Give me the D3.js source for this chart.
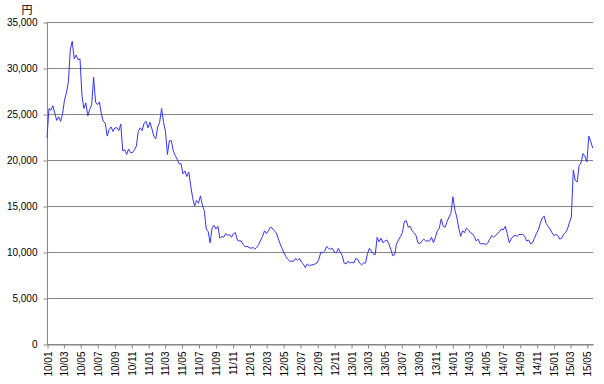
<!DOCTYPE html>
<html>
<head>
<meta charset="utf-8">
<script src="https://cdn.jsdelivr.net/npm/d3@7"></script>
<style>
  body { margin: 0; background: #fff; }
  #graph { width: 604px; height: 384px; }
  .line { fill: none; stroke: #3333ff; stroke-width: 1; }
  text { font-family: "Liberation Sans", Arial, sans-serif; font-size: 10px; fill: #000; }
</style>
</head>
<body>
<div id="graph"></div>
<script>
// weekly closes (Friday), one list per year
var price2010 = [22400, 25600, 25400, 25900, 25100, 24300, 24700, 24200, 25000, 26500,
  27300, 28500, 32000, 32900, 31000, 31400, 30900, 31000, 27000, 25600,
  26200, 24800, 25500, 26000, 29000, 26300, 26000, 26300, 25000, 24200,
  24000, 22600, 23300, 23600, 23100, 23500, 23500, 23200, 23900, 21000,
  21100, 20600, 21200, 20800, 20800, 21100, 21500, 23100, 23500, 23200,
  24000, 24200, 23500];
var price2011 = [24100, 23400, 22600, 22300, 23600, 24100, 25600, 24100, 23100, 20600,
  22100, 22100, 21000, 20500, 20100, 19600, 19600, 18500, 18800, 18200,
  18700, 17200, 15900, 15000, 15600, 15300, 16100, 15100, 14500, 12500,
  12200, 11000, 12600, 12900, 12500, 12800, 11500, 11700, 11600, 12000,
  11800, 11900, 11600, 12000, 12100, 11300, 11200, 11200, 10800, 10600,
  10600, 10500];
var price2012 = [10400, 10500, 10300, 10500, 10800, 11300, 11700, 12300, 12000, 12300,
  12700, 12600, 12300, 12100, 11500, 10900, 10400, 9900, 9500, 9200,
  9000, 9000, 9000, 9300, 9100, 9300, 8900, 8700, 8300, 8700,
  8500, 8600, 8600, 8700, 8800, 9200, 10000, 9900, 10100, 10600,
  10400, 10300, 10400, 10000, 9900, 10400, 10000, 9600, 8800, 8700,
  9000, 8800];
var price2013 = [8900, 8800, 9300, 9200, 8800, 8600, 8800, 8800, 9800, 10400,
  10100, 9800, 9700, 11600, 11100, 11500, 11000, 11200, 11300, 10900,
  10300, 9600, 9700, 10900, 11300, 11700, 12100, 13300, 13400, 12700,
  12800, 12300, 12100, 11800, 11000, 10900, 11200, 11400, 11200, 11200,
  11200, 11600, 11000, 11600, 12300, 12600, 13600, 12800, 12700, 13300,
  13800, 14200];
var price2014 = [16000, 14600, 13800, 12600, 11700, 12300, 12100, 12600, 12400, 12100,
  12000, 11700, 11200, 11400, 10900, 10900, 10900, 10800, 11000, 11400,
  11800, 11600, 11800, 12000, 12200, 12500, 12400, 12800, 12000, 11000,
  11400, 11700, 11800, 11700, 11900, 11900, 11900, 11700, 11200, 11300,
  10900, 11000, 11500, 12000, 12400, 13100, 13700, 13900, 13100, 12800,
  12500, 12100];
var price2015 = [11800, 11900, 11800, 11400, 11500, 11900, 12100, 12500, 13200, 13800,
  18900, 17800, 17600, 19400, 19700, 20700, 20400, 19800, 22600, 22000,
  21300];

var years = [2010, 2011, 2012, 2013, 2014, 2015];
var prices = [price2010, price2011, price2012, price2013, price2014, price2015];
var yTicks = [0, 5000, 10000, 15000, 20000, 25000, 30000, 35000];
var unitLabel = "円";

var data = [];
years.forEach(function(y, i) {
  var fridays = d3.timeFriday.range(new Date(y, 0, 1), new Date(y + 1, 0, 1));
  prices[i].forEach(function(v, j) {
    data.push({ Date: fridays[j], Close: v });
  });
});

var chartW = 604, chartH = 384;
var mLeft = 47, mRight = 593, mTop = 22, mBottom = 344;

var svg = d3.select("#graph").append("svg")
  .attr("width", chartW)
  .attr("height", chartH);

var xScale = d3.scaleTime()
  .domain([new Date(2010, 0, 1), new Date(2015, 4, 23)])
  .range([mLeft, mRight]);

var yScale = d3.scaleLinear()
  .domain([0, 35000])
  .range([mBottom, mTop]);

// gridlines
svg.append("g")
  .selectAll("line")
  .data(yTicks)
  .enter().append("line")
  .attr("x1", mLeft)
  .attr("x2", mRight)
  .attr("y1", d => Math.round(yScale(d)) + 0.5)
  .attr("y2", d => Math.round(yScale(d)) + 0.5)
  .attr("stroke", "#868686");

// Eje Y
var yAxis = svg.append("g")
  .attr("transform", "translate(" + (mLeft + 0.5) + ",0.5)")
  .call(
    d3.axisLeft(yScale)
    .tickValues(yTicks)
    .tickSize(4)
    .tickPadding(6)
    .tickFormat(d3.format(","))
  );
yAxis.selectAll("line, path").attr("stroke", "#868686");
yAxis.select(".domain").attr("d", "M0," + mTop + "V" + mBottom);
yAxis.selectAll("text").style("font-size", "10px").attr("font-family", null);

// Eje X
var xAxis = svg.append("g")
  .attr("transform", "translate(0.5," + (mBottom + 0.5) + ")")
  .call(
    d3.axisBottom(xScale)
    .ticks(d3.timeMonth.every(2))
    .tickSize(4)
    .tickSizeOuter(0)
    .tickFormat(d3.timeFormat("%y/%m"))
  );
xAxis.selectAll("line, path").attr("stroke", "#868686");
xAxis.selectAll("text")
  .attr("font-family", null)
  .style("font-size", "10px")
  .attr("text-anchor", "end")
  .attr("transform", "rotate(-90)")
  .attr("x", -7)
  .attr("y", 0)
  .attr("dy", "0.35em");

// linea de precios
var line = d3.line()
  .x(d => xScale(d.Date))
  .y(d => yScale(d.Close));

svg.append("path")
  .datum(data)
  .attr("class", "line")
  .attr("d", line);

svg.append("text")
  .attr("x", 27)
  .attr("y", 14)
  .attr("text-anchor", "middle")
  .style("font-family", "'Noto Sans CJK JP', sans-serif")
  .style("font-size", "11px")
  .text(unitLabel);
</script>
</body>
</html>
